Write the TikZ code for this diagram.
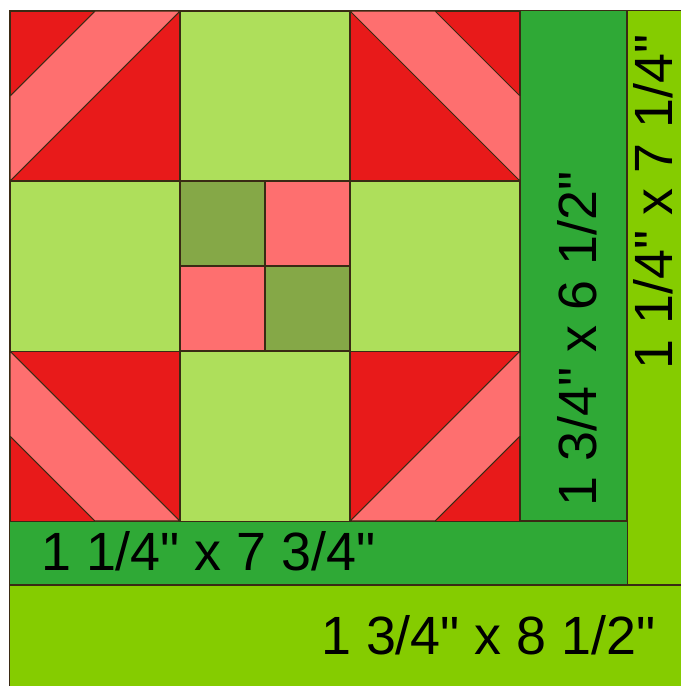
\documentclass[tikz,border=0pt]{standalone}
\usepackage{fontspec}
\setmainfont{Liberation Sans}
\usetikzlibrary{positioning}
\definecolor{quiltred}{HTML}{E81A1A}
\definecolor{quiltpink}{HTML}{FE6F6F}
\definecolor{quiltlight}{HTML}{AEDF5B}
\definecolor{quiltolive}{HTML}{85A847}
\definecolor{quiltdark}{HTML}{2FA936}
\definecolor{quiltlime}{HTML}{85CC00}
\definecolor{quiltline}{HTML}{3A2A14}
\newcommand{\inch}{\textquotedbl}

\begin{document}
\begin{tikzpicture}[
    x=0.025cm, y=-0.025cm,
    line width=0.75pt,
    every node/.style={inner sep=0pt, outer sep=0pt},
    seam/.style={draw=quiltline},
    bigsq/.style={seam, minimum size=4.25cm},
    smallsq/.style={seam, minimum size=2.125cm},
    lightsq/.style={bigsq, fill=quiltlight},
    redsq/.style={bigsq, fill=quiltred},
    pinksq/.style={smallsq, fill=quiltpink},
    olivesq/.style={smallsq, fill=quiltolive},
    band/.style={seam, fill=quiltpink},
    label/.style={font=\fontsize{38.3}{40}\selectfont, text=black}
]
\useasboundingbox (0,0) rectangle (680,686);

% -------------------------------------------------
% OUTER STRIPS
% -------------------------------------------------
\node[seam, fill=quiltlime, minimum width=1.6cm, minimum height=14.35cm] (limeright) at (659,298) {};
\node[seam, fill=quiltlime, minimum width=17.25cm, minimum height=3cm] (limebottom) at (355,645) {};
\node[seam, fill=quiltdark, minimum width=2.675cm, minimum height=12.75cm] (darkright) at (573.5,266) {};
\node[seam, fill=quiltdark, minimum width=15.425cm, minimum height=1.6cm] (darkbottom) at (318.5,553) {};

% -------------------------------------------------
% CORNER SQUARES
% -------------------------------------------------
\node[redsq] (cornerTL) at (95,96) {};
\node[redsq] (cornerTR) at (435,96) {};
\node[redsq] (cornerBL) at (95,436) {};
\node[redsq] (cornerBR) at (435,436) {};

% pink bands
\draw[band] (10,181) -- (180,11) -- (95,11) -- (10,96) -- cycle;
\draw[band] (350,11) -- (520,181) -- (520,96) -- (435,11) -- cycle;
\draw[band] (10,351) -- (180,521) -- (95,521) -- (10,436) -- cycle;
\draw[band] (520,351) -- (350,521) -- (435,521) -- (520,436) -- cycle;

% -------------------------------------------------
% SIDE SQUARES
% -------------------------------------------------
\node[lightsq] (sideT) at (265,96) {};
\node[lightsq] (sideL) at (95,266) {};
\node[lightsq] (sideR) at (435,266) {};
\node[lightsq] (sideB) at (265,436) {};

% -------------------------------------------------
% CENTRE
% -------------------------------------------------
\node[olivesq] (midTL) at (222.5,223.5) {};
\node[pinksq] (midTR) at (307.5,223.5) {};
\node[pinksq] (midBL) at (222.5,308.5) {};
\node[olivesq] (midBR) at (307.5,308.5) {};

% -------------------------------------------------
% LABELS
% -------------------------------------------------
\node[label] (textbottom) at (488.5,635) {1 3/4\inch{} x 8 1/2\inch};
\node[label] (textdark) at (208.5,551) {1 1/4\inch{} x 7 3/4\inch};
\node[label, rotate=90] (textright) at (577,339) {1 3/4\inch{} x 6 1/2\inch};
\node[label, rotate=90] (textlime) at (653.5,202) {1 1/4\inch{} x 7 1/4\inch};

\end{tikzpicture}
\end{document}
